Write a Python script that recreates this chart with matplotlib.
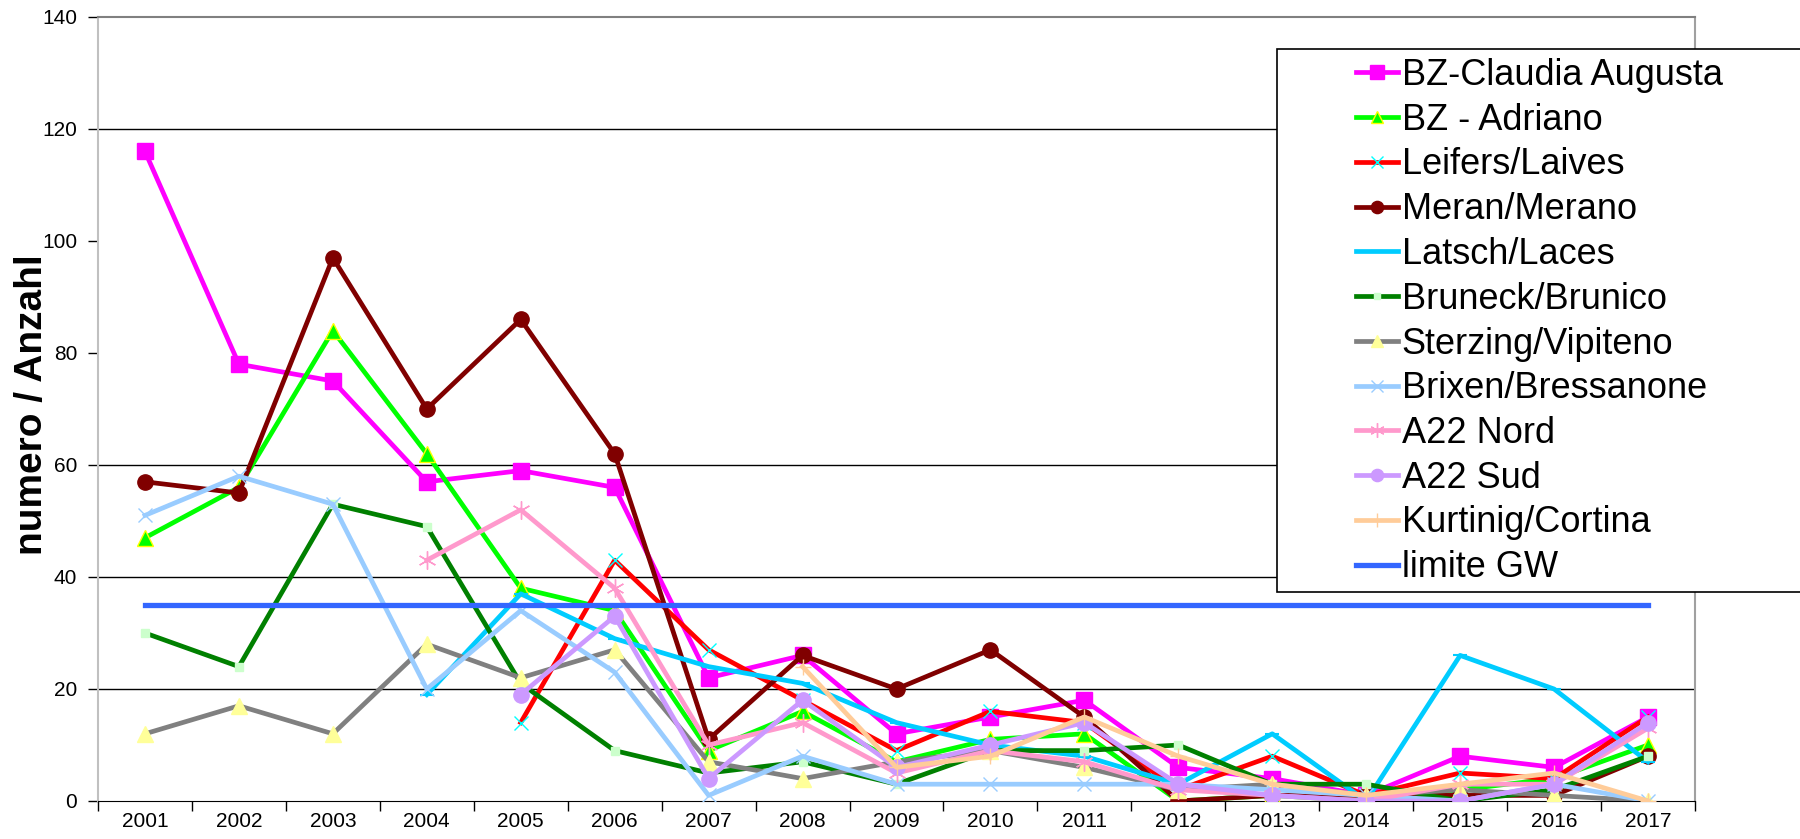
"""Annual counts per station with the GW limit line."""

import matplotlib

matplotlib.use("Agg")
import matplotlib.pyplot as plt
import numpy as np
from matplotlib.patches import Rectangle

nan = np.nan

years = [str(y) for y in range(2001, 2018)]

claudia_augusta = [116, 78, 75, 57, 59, 56, 22, 26, 12, 15, 18, 6, 4, 1, 8, 6, 15]
adriano = [47, 56, 84, 62, 38, 34, 9, 16, 7, 11, 12, 0, 1, 0, 2, 4, 10]
leifers = [nan, nan, nan, nan, 14, 43, 27, 18, 9, 16, 14, 2, 8, 1, 5, 4, 15]
meran = [57, 55, 97, 70, 86, 62, 11, 26, 20, 27, 15, 0, 1, 1, 1, 1, 8]
latsch = [nan, nan, nan, 19, 37, 29, 24, 21, 14, 10, 8, 3, 12, 0, 26, 20, 7]
bruneck = [30, 24, 53, 49, 21, 9, 5, 7, 3, 9, 9, 10, 3, 3, 0, 2, 8]
sterzing = [12, 17, 12, 28, 22, 27, 7, 4, 7, 9, 6, 2, 3, 1, 2, 1, 0]
brixen = [51, 58, 53, 20, 34, 23, 1, 8, 3, 3, 3, 3, 2, 1, 0, 3, 0]
a22_nord = [nan, nan, nan, 43, 52, 38, 10, 14, 5, 9, 7, 2, 1, 0, 3, 3, 13]
a22_sud = [nan, nan, nan, nan, 19, 33, 4, 18, 6, 10, 14, 3, 1, 0, 0, 3, 14]
kurtinig = [nan, nan, nan, nan, nan, nan, nan, 24, 6, 8, 15, 8, 3, 1, 3, 5, 0]
limite_gw = [35] * 17

y_ticks = [0, 20, 40, 60, 80, 100, 120, 140]
grid_values = [20, 40, 60, 120]

FONT = "Liberation Sans"
plt.rcParams["font.family"] = [FONT, "DejaVu Sans"]

series = [
    ("BZ-Claudia Augusta", claudia_augusta,
     dict(color="#FF00FF", marker="s", ms=12, mfc="#FF00FF", mec="#FF00FF")),
    ("BZ - Adriano", adriano,
     dict(color="#00FF00", marker="^", ms=11, mfc="#00FF00", mec="#FFFF00", mew=1)),
    ("Leifers/Laives", leifers,
     dict(color="#FF0000", marker="x", ms=10, mec="#00FFFF", mew=1)),
    ("Meran/Merano", meran,
     dict(color="#800000", marker="o", ms=11, mfc="#800000", mec="#800000")),
    ("Latsch/Laces", latsch,
     dict(color="#00CCFF", marker="_", ms=10, mec="#00CCFF", mew=1.5)),
    ("Bruneck/Brunico", bruneck,
     dict(color="#008000", marker="s", ms=6, mfc="#CCFFCC", mec="#CCFFCC")),
    ("Sterzing/Vipiteno", sterzing,
     dict(color="#808080", marker="^", ms=11, mfc="#FFFF99", mec="#FFFF99")),
    ("Brixen/Bressanone", brixen,
     dict(color="#99CCFF", marker="x", ms=10, mec="#99CCFF", mew=1)),
    ("A22 Nord", a22_nord,
     dict(color="#FF99CC", marker=(6, 2, 0), ms=13, mec="#FF99CC", mew=1)),
    ("A22 Sud", a22_sud,
     dict(color="#CC99FF", marker="o", ms=11, mfc="#CC99FF", mec="#CC99FF")),
    ("Kurtinig/Cortina", kurtinig,
     dict(color="#FFCC99", marker="+", ms=12, mec="#FFCC99", mew=1)),
]

fig = plt.figure(figsize=(18, 8.39), dpi=100)
ax = fig.add_axes([98 / 1800, 1 - 801 / 839, (1695 - 98) / 1800, (801 - 17) / 839])

x = np.arange(len(years))
for yv in grid_values:
    ax.axhline(yv, color="black", lw=1, zorder=1)

handles = []
for label, values, style in series:
    (h,) = ax.plot(x, values, lw=3.4, label=label, zorder=3, **style)
    handles.append(h)
(h,) = ax.plot(x, limite_gw, color="#3366FF", lw=3.8, label="limite GW", zorder=3)
handles.append(h)

ax.set_xlim(-0.5, len(years) - 0.5)
ax.set_ylim(0, 140)

ax.set_xticks(np.arange(-0.5, len(years), 1.0))
ax.set_xticklabels([])
ax.set_xticks(x, minor=True)
ax.set_xticklabels(years, minor=True)
ax.tick_params(axis="x", which="major", length=7, width=1, color="black", direction="out")
ax.tick_params(axis="x", which="minor", length=0, pad=8, labelsize=15)

ax.set_yticks(y_ticks)
ax.set_yticklabels([str(v) for v in y_ticks])
ax.tick_params(axis="y", length=7, width=1, color="black", pad=8, labelsize=15)

ax.spines["left"].set_color("#C0C0C0")
ax.spines["left"].set_linewidth(1.5)
ax.spines["top"].set_color("#808080")
ax.spines["top"].set_linewidth(1.5)
ax.spines["right"].set_color("#A0A0A0")
ax.spines["right"].set_linewidth(1.5)
ax.spines["bottom"].set_color("black")

fig.text(32 / 1800, 1 - 405 / 839, "numero / Anzahl", rotation=90,
         ha="center", va="center", fontsize=28, fontweight="bold")

# legend frame sits partly outside the figure, like the original
frame = Rectangle((1277 / 1800, 1 - 592 / 839), 600 / 1800, (592 - 49) / 839,
                  transform=fig.transFigure, facecolor="white", edgecolor="black",
                  lw=1.2, zorder=5)
fig.add_artist(frame)

leg = fig.legend(handles=handles, loc="upper left",
                 bbox_to_anchor=(1356 / 1800, 1 - 58 / 839),
                 frameon=False, fontsize=26, borderpad=0, borderaxespad=0,
                 handlelength=1.15, handletextpad=0.12, labelspacing=0.27,
                 markerscale=0.8)
leg.set_zorder(6)

fig.savefig("out.png", dpi=100)
